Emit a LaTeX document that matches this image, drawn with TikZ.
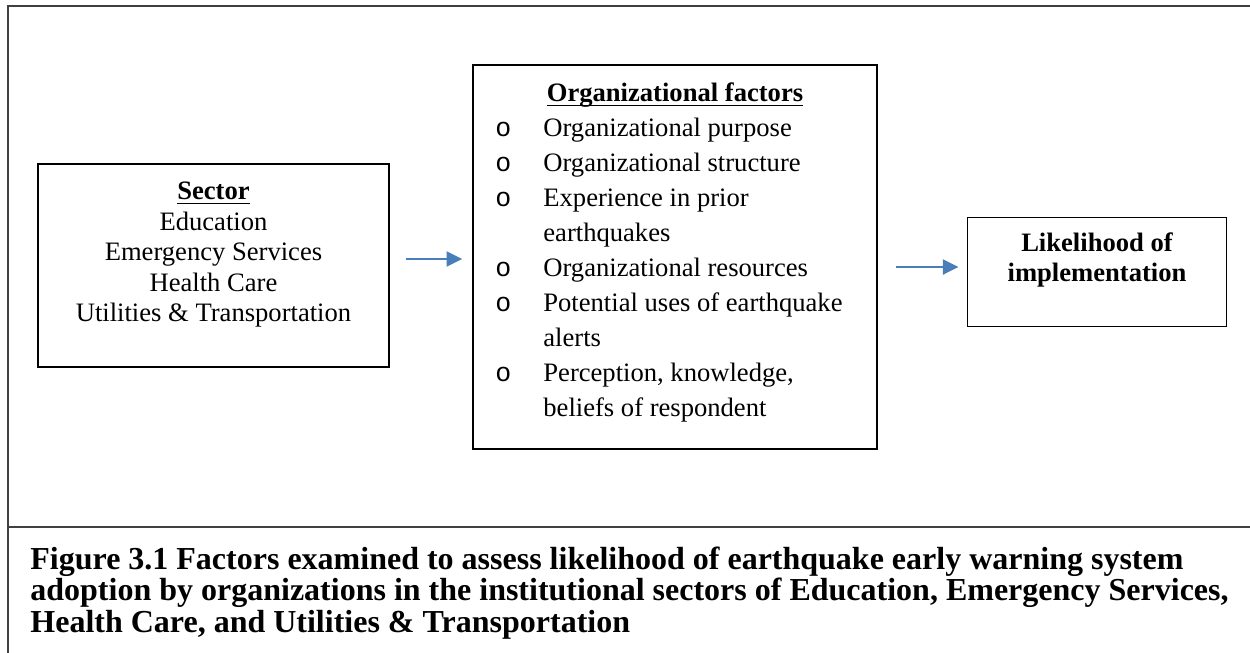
\documentclass[tikz,border=0pt]{standalone}
\usepackage{fontspec}
\setmainfont{Liberation Serif}
\newfontfamily\bulletfont{Liberation Mono}
\usetikzlibrary{arrows.meta}
\definecolor{flowblue}{HTML}{4A7EBB}
\definecolor{framegray}{HTML}{404040}
% underline sitting just below the baseline, crossing descenders
\newcommand\myul[1]{\setbox0\hbox{#1}\rlap{\rule[-2.4pt]{\wd0}{0.85pt}}\box0}
% hollow list bullet followed by the text indent
\newcommand\bul{\makebox[24pt][l]{\bulletfont o}}
\begin{document}
\begin{tikzpicture}[x=0.5pt,y=-0.5pt,
  box/.style={draw=black,line width=0.7pt,inner sep=0pt},
  flow/.style={draw=flowblue,line width=1pt,-{Triangle[length=7.8pt,width=7.5pt]}},
  txt/.style={inner sep=0pt,anchor=base}]
\useasboundingbox (0,0) rectangle (1250,653);

% outer frame and caption rule
\draw[framegray,line width=1pt] (1250,5.5) -- (8,5.5) -- (8,653);
\draw[framegray,line width=1pt] (8,527) -- (1250,527);

% boxes
\node[box,minimum width=175.5pt,minimum height=101.5pt] (sector) at (213.5,265.5) {};
\node[box,minimum width=202pt,minimum height=192pt] (org) at (675,257) {};
\node[box,minimum width=129.75pt,minimum height=54.75pt] (lik) at (1097,272) {};

% box contents
\node[txt,font=\fontsize{13.3}{15.3}\selectfont] (sectortext) at (213.5,199.5)
  {\begin{tabular}[t]{@{}c@{}}\textbf{\myul{Sector}}\\Education\\Emergency Services\\Health Care\\Utilities \& Transportation\end{tabular}};

\node[txt,font=\fontsize{13.3}{17.5}\selectfont\bfseries] (orgtitle) at (675,101.5) {\myul{Organizational factors}};
\node[txt,anchor=base west,font=\fontsize{13.3}{17.5}\selectfont] (orglist) at (495,136.5)
  {\begin{tabular}[t]{@{}l@{}l@{}}
   \bul & Organizational purpose\\
   \bul & Organizational structure\\
   \bul & Experience in prior\\
        & earthquakes\\
   \bul & Organizational resources\\
   \bul & Potential uses of earthquake\\
        & alerts\\
   \bul & Perception, knowledge,\\
        & beliefs of respondent
   \end{tabular}};

\node[txt,font=\fontsize{13.3}{14.75}\selectfont\bfseries] (liktext) at (1097,251.5)
  {\begin{tabular}[t]{@{}c@{}}Likelihood of\\implementation\end{tabular}};

% connectors
\draw[flow,shorten <=8.3pt,shorten >=5pt] (sector.east |- 0,259) -- (org.west |- 0,259);
\draw[flow,shorten <=9pt,shorten >=4pt] (org.east |- 0,267) -- (lik.west |- 0,267);

% caption
\node[txt,anchor=base west,font=\fontsize{16}{15.4}\selectfont\bfseries] (caption) at (30,569)
  {\begin{tabular}[t]{@{}l@{}}Figure 3.1 Factors examined to assess likelihood of earthquake early warning system\\
   adoption by organizations in the institutional sectors of Education, Emergency Services,\\
   Health Care, and Utilities \& Transportation\end{tabular}};
\end{tikzpicture}
\end{document}
